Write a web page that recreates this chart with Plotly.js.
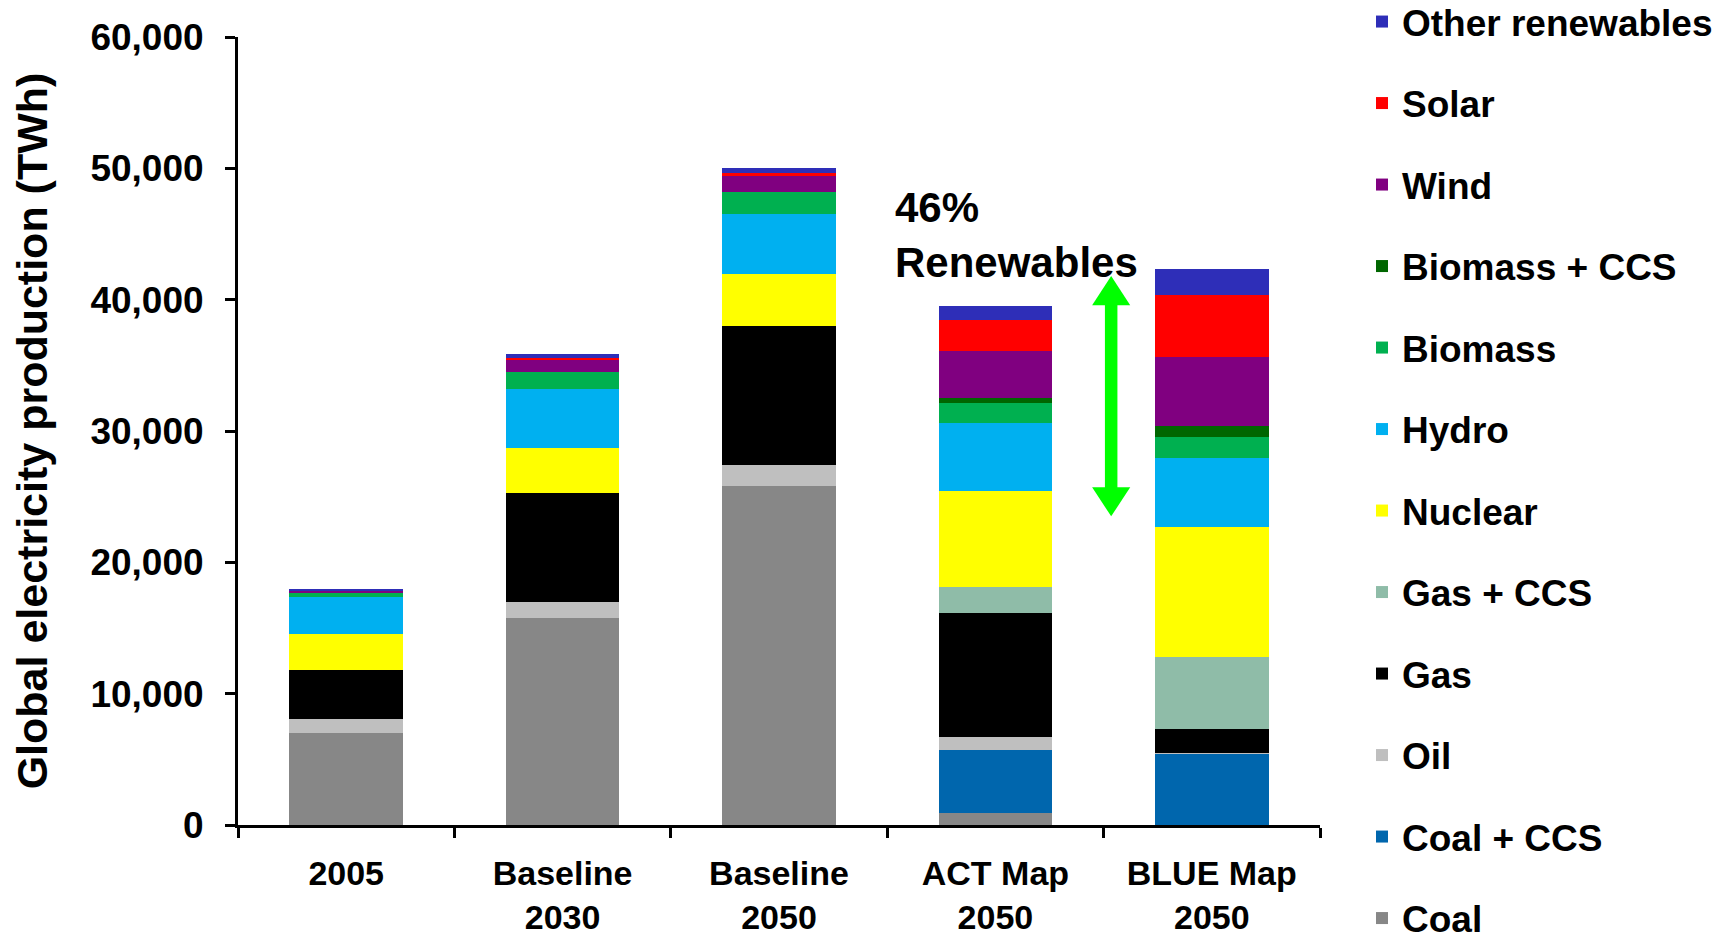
<!DOCTYPE html>
<html>
<head>
<meta charset="utf-8">
<script src="https://cdn.plot.ly/plotly-3.0.1.min.js"></script>
<style>
  html, body { margin: 0; padding: 0; background: #ffffff; }
  #chart { width: 1728px; height: 940px; }
</style>
</head>
<body>
<div id="chart"></div>
<script>
// Scenario categories along the x axis
const scenarios = ["2005", "Baseline<br>2030", "Baseline<br>2050", "ACT Map<br>2050", "BLUE Map<br>2050"];

// Electricity production by source, TWh (same order as scenarios)
const coal        = [6990, 15750, 25800,  900,    0];
const coalCCS     = [   0,     0,     0, 4840, 5410];
const oil         = [1110,  1220,  1600,  925,  110];
const gas         = [3680,  8280, 10600, 9495, 1770];
const gasCCS      = [   0,     0,     0, 1960, 5500];
const nuclear     = [2790,  3420,  3990, 7340, 9870];
const hydro       = [2820,  4545,  4570, 5120, 5310];
const biomass     = [ 330,  1270,  1675, 1520, 1600];
const biomassCCS  = [   0,     0,     0,  410,  790];
const wind        = [ 100,   960,  1245, 3590, 5250];
const solar       = [  10,   150,   150, 2340, 4740];
const otherRenew  = [ 110,   290,   360, 1060, 2010];

// Stack order from the bottom up
const series = [
  { name: "Coal",             values: coal,       color: "#878787" },
  { name: "Coal + CCS",       values: coalCCS,    color: "#0066ad" },
  { name: "Oil",              values: oil,        color: "#bfbfbf" },
  { name: "Gas",              values: gas,        color: "#000000" },
  { name: "Gas + CCS",        values: gasCCS,     color: "#8fbca8" },
  { name: "Nuclear",          values: nuclear,    color: "#ffff00" },
  { name: "Hydro",            values: hydro,      color: "#00b0f0" },
  { name: "Biomass",          values: biomass,    color: "#00b050" },
  { name: "Biomass + CCS",    values: biomassCCS, color: "#006600" },
  { name: "Wind",             values: wind,       color: "#800080" },
  { name: "Solar",            values: solar,      color: "#ff0000" },
  { name: "Other renewables", values: otherRenew, color: "#2e2eb8" }
];

// Double-headed marker for the renewables share (x in category units, y in TWh)
const arrowX = 3.535;
const arrowTop = 41800;
const arrowBottom = 23500;
const headHalfWidth = 0.088;
const headHeight = 2220;
const arrowColor = "#00ff00";

const FONT = "Liberation Sans, Arial, Helvetica, sans-serif";

// Legend lists the top of the stack first
const traces = series.map((s, i) => ({
  type: "bar",
  name: s.name,
  x: scenarios,
  y: s.values,
  legendgroup: s.name,
  legendrank: series.length - i,
  marker: { color: s.color, line: { width: 0 } },
  hoverinfo: "x+y+name"
}));

const shapes = [
  {
    type: "line", xref: "x", yref: "y",
    x0: arrowX, x1: arrowX,
    y0: arrowBottom + headHeight * 0.9, y1: arrowTop - headHeight * 0.9,
    line: { color: arrowColor, width: 12.5 }
  },
  {
    type: "path", xref: "x", yref: "y",
    path: `M ${arrowX - headHalfWidth},${arrowTop - headHeight} L ${arrowX + headHalfWidth},${arrowTop - headHeight} L ${arrowX},${arrowTop} Z`,
    fillcolor: arrowColor, line: { width: 0 }
  },
  {
    type: "path", xref: "x", yref: "y",
    path: `M ${arrowX - headHalfWidth},${arrowBottom + headHeight} L ${arrowX + headHalfWidth},${arrowBottom + headHeight} L ${arrowX},${arrowBottom} Z`,
    fillcolor: arrowColor, line: { width: 0 }
  }
];

const layout = {
  width: 1728,
  height: 940,
  barmode: "stack",
  bargap: 0.475,
  paper_bgcolor: "#ffffff",
  plot_bgcolor: "#ffffff",
  margin: { l: 238, r: 408, t: 37, b: 114.5, autoexpand: false },
  font: { family: FONT, color: "#000000", size: 36, weight: 700 },
  showlegend: true,
  legend: {
    xref: "container", yref: "container",
    x: 0.7882, xanchor: "left",
    y: 0.5, yanchor: "middle",
    traceorder: "grouped",
    tracegroupgap: 30.4,
    maxheight: 1200,
    font: { family: FONT, size: 37, weight: 700, color: "#000000" },
    bgcolor: "rgba(0,0,0,0)"
  },
  xaxis: {
    type: "category",
    automargin: false,
    showline: true, linecolor: "#000000", linewidth: 3,
    ticks: "outside", tickson: "boundaries", ticklen: 10, tickwidth: 3, tickcolor: "#000000",
    ticklabelstandoff: 16,
    showgrid: false, zeroline: false,
    tickfont: { family: FONT, size: 34, weight: 700, color: "#000000" },
    fixedrange: true
  },
  yaxis: {
    automargin: false,
    range: [0, 60000],
    dtick: 10000,
    tickformat: ",d",
    showline: true, linecolor: "#000000", linewidth: 3,
    ticks: "outside", ticklen: 10, tickwidth: 3, tickcolor: "#000000",
    showgrid: false, zeroline: false,
    ticklabelstandoff: 14,
    tickfont: { family: FONT, size: 37, weight: 700, color: "#000000" },
    title: {
      text: "Global electricity production (TWh)",
      font: { family: FONT, size: 43, weight: 700, color: "#000000" },
      standoff: 30
    },
    fixedrange: true
  },
  shapes: shapes,
  annotations: [
    {
      xref: "x", yref: "y",
      x: 2.527, y: 44935,
      xanchor: "left", yanchor: "middle",
      align: "left",
      showarrow: false,
      text: "46%<br>Renewables",
      font: { family: FONT, size: 42, weight: 700, color: "#000000" }
    }
  ]
};

Plotly.newPlot("chart", traces, layout, { displayModeBar: false });
</script>
</body>
</html>
